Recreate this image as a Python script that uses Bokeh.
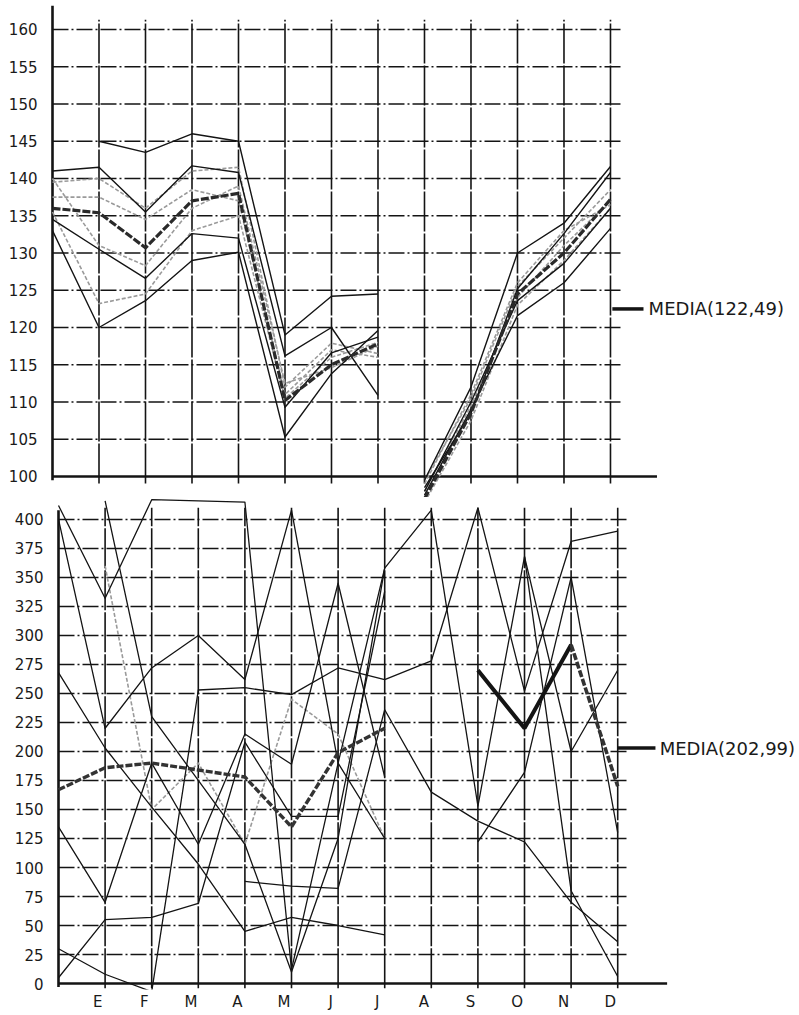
import math
from bokeh.plotting import figure
from bokeh.layouts import column
from bokeh.models import Range1d, FixedTicker
from bokeh.core.properties import value
from bokeh.embed import file_html
from bokeh.resources import INLINE

NaN = float("nan")

# ---------------- data ----------------
months = ["E", "F", "M", "A", "M", "J", "J", "A", "S", "O", "N", "D"]
month_pos = list(range(1, 13))
xs = list(range(0, 13))          # 0 = axis (diciembre anterior), 1..12 = E..D

top_ticks = [100, 105, 110, 115, 120, 125, 130, 135, 140, 145, 150, 155, 160]
bottom_ticks = [0, 25, 50, 75, 100, 125, 150, 175, 200, 225, 250, 275, 300, 325, 350, 375, 400]

top_mean = 122.49
bottom_mean = 202.99

# upper panel series (first part 0..7, second part 8..12)
top_black_1 = [NaN, 145.0, 143.5, 146.0, 145.0, 119.0, 124.2, 124.5, 99.5, 112.0, 130.0, 134.0, 141.6]
top_black_2 = [141.0, 141.5, 135.5, 141.7, 140.8, 116.2, 120.0, 110.9, 98.5, 108.5, 125.2, 132.6, 140.8]
top_black_3 = [133.0, 120.0, 123.6, 129.0, 130.1, 105.3, 113.8, 119.6, 97.5, 109.0, 121.6, 126.0, 133.3]
top_black_4 = [134.5, 130.5, 126.6, 132.6, 132.0, 109.3, 116.6, 118.7, 98.0, 110.0, 123.6, 128.6, 136.0]
top_thick = [136.0, 135.4, 130.7, 137.0, 138.0, 110.2, 115.0, 117.8, 97.0, 108.5, 124.5, 130.0, 137.2]
top_gray_1 = [139.5, 140.0, 136.0, 141.0, 141.5, 112.0, 117.9, 116.5, 99.0, 111.0, 126.0, 133.0, 136.5]
top_gray_2 = [137.5, 137.5, 134.5, 138.5, 137.0, 111.0, 117.0, 116.0, 96.5, 107.5, 123.0, 129.0, 136.0]
top_gray_3 = [135.5, 123.2, 124.5, 133.0, 135.0, 110.5, 116.0, 118.0, 98.0, 109.5, 124.0, 131.0, 137.0]
top_gray_4 = [140.0, 131.0, 128.3, 136.0, 139.0, 112.5, 114.6, 117.5, 99.5, 110.5, 125.5, 132.0, 138.5]

# lower panel series
bot_black_1 = [412, 332, 417, 416, 415, 12, 190, 125, NaN, NaN, NaN, NaN, NaN]
bot_black_2 = [400, 220, 272, 300, 262, 408, 190, 358, 408, 153, 368, 200, 270]
bot_black_3 = [30, 8, -7, 253, 255, 249, 272, 262, 278, 410, 252, 381, 390]
bot_black_4 = [268, 203, 152, 103, 45, 57, 50, 42, NaN, NaN, NaN, NaN, NaN]
bot_black_5 = [135, 70, 190, 120, 215, 189, 345, 178, NaN, NaN, NaN, NaN, NaN]
bot_black_6 = [5, 55, 57, 69, 208, 144, 144, 338, NaN, NaN, NaN, NaN, NaN]
bot_black_7 = [NaN, NaN, NaN, NaN, 88, 84, 82, 236, 165, 140, 122, 70, 36]
bot_black_8 = [NaN, 416, 230, 175, 120, 10, 125, 358, NaN, NaN, NaN, NaN, NaN]
bot_black_9 = [NaN, NaN, NaN, NaN, NaN, NaN, NaN, NaN, NaN, 122, 182, 350, 130]
bot_black_10 = [NaN, NaN, NaN, NaN, NaN, NaN, NaN, NaN, NaN, NaN, 368, 80, 6]
bot_gray_1 = [NaN, 360, 150, 190, 120, 245, 215, 125, NaN, NaN, NaN, NaN, NaN]
bot_thick = [167, 186, 190, 184, 178, 135, 199, 220, NaN, 270, 220, 292, 170]

# ---------------- styles ----------------
INK = "#141414"
GRAY = "#9a9a9a"
FONT = "DejaVu Sans"
W = 799
LEFT = 48   # common frame left edge of both panels (column aligns them)


def base_fig(height, xr, yr, bottom):
    p = figure(width=W, height=height, x_range=xr, y_range=yr,
               output_backend="svg", toolbar_location=None,
               min_border_left=LEFT, min_border_right=0,
               min_border_top=0, min_border_bottom=bottom)
    p.outline_line_color = None
    p.xgrid.visible = False
    p.ygrid.visible = False
    p.background_fill_color = "white"
    p.border_fill_color = "white"
    return p


def style_yaxis(ax, ticks, standoff):
    ax.ticker = FixedTicker(ticks=ticks)
    ax.axis_line_color = None
    ax.major_tick_line_color = None
    ax.minor_tick_line_color = None
    ax.major_tick_out = 0
    ax.major_tick_in = 0
    ax.major_label_standoff = standoff
    ax.major_label_text_font = FONT
    ax.major_label_text_font_size = "15px"
    ax.major_label_text_color = "#1a1a1a"


def draw_series(p, ys, color, width, dash="solid", split=True):
    if split:
        parts = [(xs[0:8], ys[0:8]), (xs[8:13], ys[8:13])]
    else:
        parts = [(xs, ys)]
    for px, py in parts:
        p.line(px, py, line_color=color, line_width=width, line_dash=dash,
               line_join="round")


# ================= TOP PANEL =================
# month 0 at 52 px, 46.5 px per month; 7.45 px per unit, 160 at 29 px
top = base_fig(497, Range1d(-0.086, 16.065), Range1d(97.18, 163.89), 0)
top.xaxis.visible = False
style_yaxis(top.yaxis[0], top_ticks, 11)

hx0 = [0] * (len(top_ticks) - 1)
hx1 = [12.24] * (len(top_ticks) - 1)
top.segment(hx0, top_ticks[1:], hx1, top_ticks[1:], line_color=INK,
            line_width=1.6, line_dash="16 3 2 3")
top.segment(month_pos, [99.05] * 12, month_pos, [161.3] * 12,
            line_color=INK, line_width=1.6, line_dash="40 2")
top.segment([0], [100], [13.0], [100], line_color=INK, line_width=2.6)
top.segment([0], [99.5], [0], [163.2], line_color=INK, line_width=2.6)

for s in [top_gray_1, top_gray_2, top_gray_3, top_gray_4]:
    draw_series(top, s, GRAY, 1.6, "4 2")
for s in [top_black_1, top_black_2, top_black_3, top_black_4]:
    draw_series(top, s, INK, 1.4)
draw_series(top, top_thick, "#2a2a2a", 3.2, "8 2")

top.segment([12.04], [top_mean], [12.71], [top_mean], line_color=INK, line_width=3.5)
top.text([12.82], [top_mean], text=["MEDIA(122,49)"], text_font=value(FONT),
         text_font_size="18px", text_color="#1a1a1a", text_baseline="middle",
         text_align="left")

# ================= BOTTOM PANEL =================
# month 0 at 58 px, 46.6 px per month; 1.165 px per unit
bot = base_fig(516, Range1d(-0.2146, 15.901), Range1d(-5.15, 418.9), 24)
style_yaxis(bot.yaxis[0], bottom_ticks, 5)
label_pos = [m - 0.16 for m in month_pos]
xa = bot.xaxis[0]
xa.ticker = FixedTicker(ticks=label_pos)
xa.major_label_overrides = {pos: m for pos, m in zip(label_pos, months)}
xa.axis_line_color = None
xa.major_tick_line_color = None
xa.minor_tick_line_color = None
xa.major_tick_out = 0
xa.major_tick_in = 0
xa.major_label_standoff = 3
xa.major_label_text_font = FONT
xa.major_label_text_font_size = "15px"
xa.major_label_text_color = "#1a1a1a"

bx0 = [0] * (len(bottom_ticks) - 1)
bx1 = [12.23] * (len(bottom_ticks) - 1)
bot.segment(bx0, bottom_ticks[1:], bx1, bottom_ticks[1:], line_color=INK,
            line_width=1.6, line_dash="16 3 2 3")
bot.segment(month_pos, [-4] * 12, month_pos, [410] * 12,
            line_color=INK, line_width=1.6, line_dash="40 2")
bot.segment([0], [0], [13.06], [0], line_color=INK, line_width=2.6)
bot.segment([0], [-3], [0], [408], line_color=INK, line_width=2.6)

draw_series(bot, bot_gray_1, GRAY, 1.6, "4 2", split=False)
for s in [bot_black_1, bot_black_2, bot_black_3, bot_black_4, bot_black_5,
          bot_black_6, bot_black_7, bot_black_8, bot_black_9, bot_black_10]:
    draw_series(bot, s, INK, 1.3, split=False)
bot.line(xs[0:8], bot_thick[0:8], line_color="#333333", line_width=3.4,
         line_dash="7 2")
bot.line(xs[9:12], bot_thick[9:12], line_color=INK, line_width=4.0)
bot.line(xs[11:13], bot_thick[11:13], line_color="#333333", line_width=3.6,
         line_dash="7 2")

bot.segment([12.0], [bottom_mean], [12.81], [bottom_mean], line_color=INK, line_width=3.5)
bot.text([12.9], [bottom_mean], text=["MEDIA(202,99)"], text_font=value(FONT),
         text_font_size="18px", text_color="#1a1a1a", text_baseline="alphabetic",
         text_align="left")

layout = column(top, bot, spacing=0)
open("out.html", "w").write(file_html(layout, INLINE))
